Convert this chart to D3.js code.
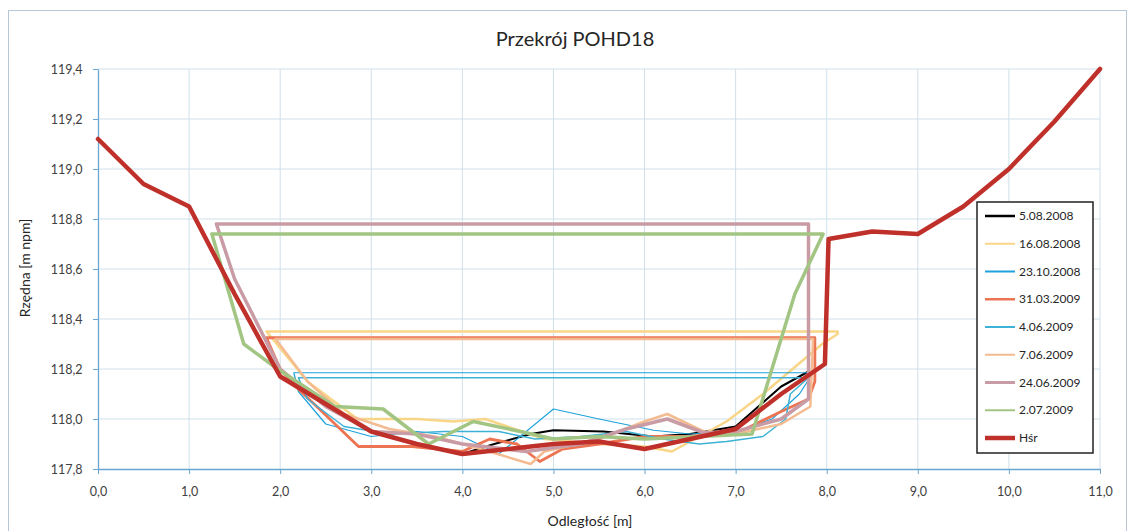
<!DOCTYPE html>
<html>
<head>
<meta charset="utf-8">
<style>
    body { margin: 0; background: #fff; }
    svg text { font-family: 'Lato', 'Open Sans', sans-serif; fill: #404040; }
    .title { font-size: 20px; fill: #262626; }
    .axis-title { font-size: 14px; fill: #262626; }
    .tick-label { font-size: 12.5px; }
    .legend-label { font-size: 12px; fill: #262626; }
</style>
</head>
<body>
<svg width="1132" height="531"></svg>

<script src="https://d3js.org/d3.v7.min.js"></script>
<script>

    // series names, in legend order
    let seriesNames = ["5.08.2008", "16.08.2008", "23.10.2008", "31.03.2009", "4.06.2009", "7.06.2009", "24.06.2009", "2.07.2009", "Hśr"]

    // points as [distance, elevation]
    let s050808 = [[4.0, 117.86], [4.35, 117.9], [4.75, 117.94], [5.0, 117.955], [5.55, 117.95], [6.1, 117.93], [6.5, 117.94], [7.0, 117.97], [7.25, 118.05], [7.5, 118.13], [7.8, 118.19]]
    let s160808 = [[1.85, 118.35], [2.3, 118.15], [2.85, 118.0], [3.5, 118.0], [3.9, 117.99], [4.25, 118.0], [4.9, 117.92], [5.5, 117.9], [6.0, 117.89], [6.3, 117.87], [6.9, 117.99], [7.3, 118.1], [7.95, 118.3], [8.12, 118.34], [8.12, 118.35], [1.85, 118.35]]
    let s231008 = [[2.15, 118.185], [2.2, 118.11], [2.5, 117.98], [3.0, 117.93], [3.5, 117.95], [4.0, 117.93], [4.4, 117.86], [5.0, 118.04], [5.5, 118.0], [6.1, 117.955], [6.5, 117.94], [7.0, 117.95], [7.4, 118.0], [7.7, 118.1], [7.85, 118.185], [2.15, 118.185]]
    let s310309 = [[1.85, 118.325], [2.0, 118.2], [2.2, 118.12], [2.86, 117.89], [3.45, 117.89], [4.0, 117.87], [4.3, 117.92], [4.6, 117.9], [4.85, 117.83], [5.1, 117.88], [5.5, 117.9], [6.0, 117.93], [6.5, 117.93], [7.05, 117.95], [7.5, 118.03], [7.8, 118.08], [7.87, 118.15], [7.87, 118.325], [1.85, 118.325]]
    let s040609 = [[2.2, 118.165], [2.3, 118.08], [2.7, 117.97], [3.2, 117.94], [3.8, 117.95], [4.4, 117.95], [4.8, 117.92], [5.3, 117.93], [5.8, 117.95], [6.2, 117.92], [6.6, 117.9], [6.9, 117.91], [7.3, 117.93], [7.55, 118.0], [7.6, 118.1], [7.8, 118.165], [2.2, 118.165]]
    let s070609 = [[1.95, 118.32], [2.3, 118.15], [2.7, 118.02], [3.2, 117.96], [3.7, 117.93], [4.2, 117.88], [4.75, 117.82], [4.9, 117.87], [5.5, 117.92], [6.0, 117.99], [6.25, 118.02], [6.65, 117.95], [7.0, 117.94], [7.5, 117.98], [7.82, 118.05], [7.85, 118.32], [1.95, 118.32]]
    let s240609 = [[1.3, 118.78], [1.5, 118.56], [2.0, 118.2], [2.5, 118.05], [3.0, 117.95], [3.5, 117.94], [4.0, 117.9], [4.7, 117.87], [5.3, 117.9], [5.8, 117.96], [6.25, 118.0], [6.65, 117.945], [7.0, 117.95], [7.5, 118.0], [7.8, 118.08], [7.8, 118.78], [1.3, 118.78]]
    let s020709 = [[1.25, 118.74], [1.6, 118.3], [1.97, 118.2], [2.6, 118.05], [3.13, 118.04], [3.63, 117.9], [4.12, 117.99], [4.7, 117.945], [5.0, 117.92], [5.5, 117.93], [6.0, 117.92], [6.6, 117.93], [7.18, 117.94], [7.65, 118.5], [7.96, 118.74], [1.25, 118.74]]
    let sHsr = [[0, 119.12], [0.5, 118.94], [1.0, 118.85], [1.5, 118.5], [2.0, 118.17], [2.5, 118.06], [3.0, 117.95], [3.5, 117.9], [4.0, 117.86], [4.5, 117.88], [5.0, 117.9], [5.5, 117.91], [6.0, 117.88], [6.5, 117.92], [7.0, 117.96], [7.5, 118.1], [7.98, 118.22], [8.02, 118.72], [8.5, 118.75], [9.0, 118.74], [9.5, 118.85], [10.0, 119.0], [10.5, 119.19], [11.0, 119.4]]

    let xTicks = [0, 1, 2, 3, 4, 5, 6, 7, 8, 9, 10, 11]
    let yTicks = [117.8, 118.0, 118.2, 118.4, 118.6, 118.8, 119.0, 119.2, 119.4]

    let allSeries = [s050808, s160808, s231008, s310309, s040609, s070609, s240609, s020709, sHsr]
    let colors = ["#000000", "#f9d687", "#1ea2dc", "#ec7452", "#3eb2d6", "#f5bb90", "#c99ca5", "#a2c583", "#c0302a"]
    let widths = [2, 2.5, 1.2, 2.8, 1.5, 2.5, 3.5, 3.5, 4.5]
    let legendWidths = [2.5, 2, 2, 2.5, 2, 2, 3, 2, 4.5]

    let svg = d3.select("svg")

    // outer chart frame
    svg.append("rect")
        .attr("x", 8.5).attr("y", 10.5)
        .attr("width", 1118).attr("height", 530)
        .style("fill", "#fff")
        .style("stroke", "#b7c7d6")

    let x = d3.scaleLinear().domain([0, 11]).range([98, 1100])
    let y = d3.scaleLinear().domain([117.8, 119.4]).range([469, 69])

    let fmt = d => d3.format(".1f")(d).replace(".", ",")

    // grid
    svg.selectAll(".vgrid")
        .data(xTicks.slice(1))
        .join("line")
        .attr("x1", d => x(d)).attr("x2", d => x(d))
        .attr("y1", y(119.4)).attr("y2", y(117.8))
        .style("stroke", "#cfe0ea")

    svg.selectAll(".hgrid")
        .data(yTicks.slice(1))
        .join("line")
        .attr("x1", x(0)).attr("x2", x(11))
        .attr("y1", d => y(d)).attr("y2", d => y(d))
        .style("stroke", "#cfe0ea")

    // axes
    let xAxis = svg.append("g")
        .attr("transform", "translate(0," + y(117.8) + ")")
        .call(d3.axisBottom(x).tickValues(xTicks).tickFormat(fmt).tickSize(5).tickSizeOuter(0))
    let yAxis = svg.append("g")
        .attr("transform", "translate(" + x(0) + ",0)")
        .call(d3.axisLeft(y).tickValues(yTicks).tickFormat(fmt).tickSize(5).tickSizeOuter(0))

    for (let ax of [xAxis, yAxis]) {
        ax.select(".domain").style("stroke", "#6aa6cf").style("stroke-width", 1.3)
        ax.selectAll(".tick line").style("stroke", "#6aa6cf")
        ax.selectAll(".tick text").attr("class", "tick-label").style("fill", "#404040")
    }
    xAxis.selectAll(".tick text").attr("dy", "1.55em")
    yAxis.selectAll(".tick text").attr("dx", "-0.6em")

    // series
    let line = d3.line()
        .x(d => x(d[0]))
        .y(d => y(d[1]))

    svg.selectAll(".series")
        .data(allSeries)
        .join("path")
        .attr("class", "series")
        .attr("d", line)
        .style("fill", "none")
        .style("stroke", (d, i) => colors[i])
        .style("stroke-width", (d, i) => widths[i])
        .style("stroke-linejoin", "round")
        .style("stroke-linecap", "round")

    // titles
    svg.append("text")
        .attr("class", "title")
        .attr("x", 575).attr("y", 46)
        .attr("text-anchor", "middle")
        .text("Przekrój POHD18")

    svg.append("text")
        .attr("class", "axis-title")
        .attr("transform", "translate(30,268) rotate(-90)")
        .attr("text-anchor", "middle")
        .text("Rzędna [m npm]")

    svg.append("text")
        .attr("class", "axis-title")
        .attr("x", 590).attr("y", 526)
        .attr("text-anchor", "middle")
        .text("Odległość [m]")

    // legend
    let legend = svg.append("g")
    legend.append("rect")
        .attr("x", 977).attr("y", 202)
        .attr("width", 116).attr("height", 251)
        .style("fill", "#fff")
        .style("stroke", "#222")
        .style("stroke-width", 1.5)

    let rows = legend.selectAll(".row")
        .data(seriesNames)
        .join("g")
        .attr("transform", (d, i) => "translate(0," + (216 + i * 27.75) + ")")

    rows.append("line")
        .attr("x1", 985).attr("x2", 1015)
        .style("stroke", (d, i) => colors[i])
        .style("stroke-width", (d, i) => legendWidths[i])

    rows.append("text")
        .attr("class", "legend-label")
        .attr("x", 1019).attr("dy", "0.35em")
        .text(d => d)

</script>
</body>
</html>
